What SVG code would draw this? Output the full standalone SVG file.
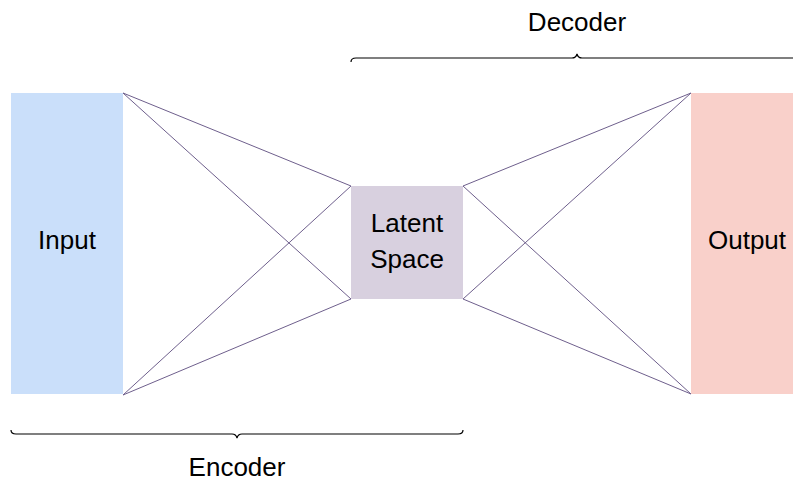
<svg xmlns="http://www.w3.org/2000/svg" width="793" height="480" viewBox="0 0 793 480">
<style>
text{font-family:"Liberation Sans",Arial,sans-serif;font-size:26px;fill:#000;text-anchor:middle}
.c{stroke:#6e5f8c;stroke-width:1;fill:none}
.b{stroke:#000;stroke-width:1.2;fill:none}
</style>
<rect width="793" height="480" fill="#fff"/>
<g id="connectors">
<line class="c" x1="123" y1="93" x2="351" y2="186"/>
<line class="c" x1="123" y1="93" x2="351" y2="299"/>
<line class="c" x1="123" y1="395" x2="351" y2="186"/>
<line class="c" x1="123" y1="395" x2="351" y2="299"/>
<line class="c" x1="463" y1="186" x2="691" y2="93"/>
<line class="c" x1="463" y1="186" x2="691" y2="394"/>
<line class="c" x1="463" y1="299" x2="691" y2="93"/>
<line class="c" x1="463" y1="299" x2="691" y2="394"/>
</g>
<g id="input">
<rect x="11" y="93" width="112" height="301" fill="#cadffa"/>
<text x="67" y="249">Input</text>
</g>
<g id="latent">
<rect x="351" y="186" width="112" height="113" fill="#d8d0df"/>
<text x="407" y="232">Latent</text>
<text x="407" y="268">Space</text>
</g>
<g id="output">
<rect x="691" y="93" width="112" height="301" fill="#f9d0ca"/>
<text x="747" y="249">Output</text>
</g>
<g id="encoder">
<path class="b" d="M11,430 Q11,434 16,434 L232,434 Q236,434 237,438 Q238,434 242,434 L458,434 Q463,434 463,430"/>
<text x="237" y="476">Encoder</text>
</g>
<g id="decoder">
<path class="b" d="M351,62 Q351,58 356,58 L572,58 Q576,58 577,54 Q578,58 582,58 L798,58 Q803,58 803,62"/>
<text x="577" y="31">Decoder</text>
</g>
</svg>
